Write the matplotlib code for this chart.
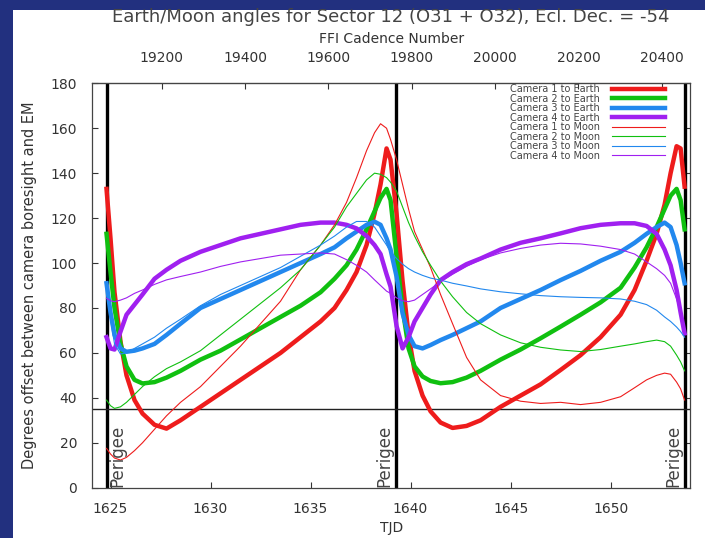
import numpy as np
from matplotlib import pyplot as plt
from matplotlib.patches import Rectangle

# sample times (TJD) shared by all series
tjd = [1624.8, 1625.0, 1625.2, 1625.5, 1625.8, 1626.2, 1626.6, 1627.2, 1627.8, 1628.5,
       1629.5, 1630.5, 1631.5, 1632.5, 1633.5, 1634.5, 1635.5, 1636.2, 1636.8, 1637.3,
       1637.8, 1638.2, 1638.5, 1638.8, 1639.0, 1639.3, 1639.6, 1639.9, 1640.2, 1640.6,
       1641.0, 1641.5, 1642.1, 1642.8, 1643.5, 1644.5, 1645.5, 1646.5, 1647.5, 1648.5,
       1649.5, 1650.5, 1651.2, 1651.8, 1652.3, 1652.7, 1653.0, 1653.3, 1653.5, 1653.7]

cam1_earth = [133, 111, 87, 65, 50, 39, 33, 28, 26.3, 30,
              36, 42, 48, 54, 60, 67, 74, 80, 88, 96,
              108, 122, 135, 151, 146, 122, 92, 68, 52, 41,
              34, 29, 26.6, 27.5, 30, 36, 41, 46, 52.4, 59,
              67, 77, 88, 101, 113, 126, 140, 152, 151, 134]
cam2_earth = [113, 96, 80, 64, 54, 48, 46.4, 47, 49, 52,
              57, 61, 66, 71, 76, 81, 87, 93, 99, 106,
              115, 123, 129, 133, 128, 103, 80, 62, 54, 49.5,
              47.5, 46.5, 47, 49, 52, 57, 61.5, 66.5, 71.7, 77,
              82.5, 89, 98, 107, 116, 124, 130, 133, 128, 115]
cam3_earth = [91, 78, 68, 62, 60.5, 61, 62, 64, 68, 73,
              80, 84, 88, 92, 96, 100, 104, 107, 111, 114,
              117, 118.4, 117, 111, 106, 94, 77.6, 68, 63, 62,
              63.5, 65.7, 68, 71, 74, 80, 84, 88, 92.4, 96.5,
              101, 105, 109, 113, 116, 118, 116, 108, 100, 91]
cam4_earth = [67, 62, 61.5, 69.5, 77, 81.5, 86, 93, 97, 101,
              105, 108, 111, 113, 115, 117, 118, 118, 117, 115.4,
              112, 108, 104, 95, 89.5, 72, 62, 67, 74, 80,
              86, 92.4, 96, 99.5, 102, 106, 109, 111, 113.2, 115.5,
              117, 117.7, 117.7, 116.5, 113, 106, 99, 88, 78, 68.7]
cam1_moon = [17.5, 15, 13.2, 12.3, 13.5, 16.5, 20, 26, 32, 38,
             45, 54, 63, 73, 83, 97, 108, 117, 127, 138,
             150, 158, 162, 160, 155, 146, 135, 124, 114, 106,
             98, 86, 73, 58, 48, 41, 38.5, 37.5, 38, 37,
             38, 40.5, 44.5, 48, 50, 51, 50.5, 47, 44, 39]
cam2_moon = [39, 36.5, 35.3, 36, 38, 41.5, 45, 49.4, 53, 56,
             61, 68, 75, 82, 89, 97, 108, 116, 125, 131,
             137, 140, 139.5, 138, 136, 132, 125, 118, 112, 105,
             99, 92, 85, 78, 73, 68, 64.5, 62.5, 61.3, 60.6,
             61.5, 63, 64, 65, 65.7, 65, 63, 59, 56, 52]
cam3_moon = [90, 75, 64, 59.5, 60, 62, 64, 67, 71, 75,
             81, 86, 90, 94, 98, 103, 108, 112, 116, 118.5,
             118.5, 116, 112, 108, 105, 102, 99.5, 97.5, 96, 94.5,
             93.3, 92.4, 91, 89.8, 88.5, 87.2, 86.3, 85.5, 85, 84.7,
             84.5, 84, 83, 81.5, 79, 76, 74, 71.5, 69.5, 67]
cam4_moon = [84.3, 83.2, 82.8, 83.5, 84.5, 86.5, 88, 90.5, 92.5, 94,
             96, 98.5, 100.5, 102, 103.5, 104, 104.5, 104, 101.5, 99,
             96, 92.5, 90, 87.5, 86.5, 84.5, 83.2, 82.8, 83.5, 86,
             88.5, 91.7, 95, 98.5, 101.5, 104.5, 106.5, 108, 108.8, 108.5,
             107.5, 106, 104, 100.5, 97.5, 94.5, 91, 84, 78, 70.2]

perigee_tjd = [1624.81, 1639.26, 1653.7]
limit_deg = 35

labels = ['Camera 1 to Earth', 'Camera 2 to Earth', 'Camera 3 to Earth', 'Camera 4 to Earth',
          'Camera 1 to Moon', 'Camera 2 to Moon', 'Camera 3 to Moon', 'Camera 4 to Moon']
series = [cam1_earth, cam2_earth, cam3_earth, cam4_earth,
          cam1_moon, cam2_moon, cam3_moon, cam4_moon]
colours = ['#ee1c1c', '#10c010', '#2288ee', '#a020f0'] * 2
widths = [3.2] * 4 + [0.8] * 4

# cadence axis: 30 minute FFIs
cad_ref, tjd_ref, cad_per_day = 19200, 1627.56, 48.0
cadence_ticks = np.arange(19200, 20401, 200)
tjd_ticks = np.arange(1625, 1651, 5)
deg_ticks = np.arange(0, 181, 20)


def tjd_to_cad(t):
    return cad_ref + (np.asarray(t) - tjd_ref) * cad_per_day


def cad_to_tjd(c):
    return tjd_ref + (np.asarray(c) - cad_ref) / cad_per_day


txt = '#333333'
fig = plt.figure(figsize=(7.05, 5.38), dpi=100, facecolor='#22307f')
# white slide panel behind the plot
fig.patches.append(Rectangle((13 / 705, 0), 1, 1 - 10 / 538, transform=fig.transFigure,
                             facecolor='white', edgecolor='none', zorder=-5))
ax = fig.add_axes([92.3 / 705, 1 - 487.7 / 538, 597.7 / 705, 404.4 / 538])
ax.set_facecolor('white')

for y, lab, col, lw in zip(series, labels, colours, widths):
    ax.plot(tjd, y, color=col, lw=lw, label=lab, zorder=3, solid_joinstyle='round')

for i, p in enumerate(perigee_tjd):
    ax.axvline(p, color='black', lw=2.4, zorder=2)
    # first label sits right of its line, the others to the left
    if i == 0:
        ax.text(p + 0.1, 0.5, 'Perigee', rotation=90, ha='left', va='bottom',
                fontsize=12, color='#444444', zorder=4)
    else:
        ax.text(p - 0.1, 0.5, 'Perigee', rotation=90, ha='right', va='bottom',
                fontsize=12, color='#444444', zorder=4)
ax.axhline(limit_deg, color='#222222', lw=1.0, zorder=2)

ax.set_xlim(1624.09, 1653.97)
ax.set_ylim(0, 180)
ax.set_xticks(tjd_ticks)
ax.set_yticks(deg_ticks)
ax.tick_params(axis='x', direction='in', length=4, pad=10, labelsize=10, colors=txt)
ax.tick_params(axis='y', direction='in', length=4, pad=11, labelsize=10, colors=txt, right=True)
for s in ax.spines.values():
    s.set_color('#444444')
    s.set_linewidth(0.9)

ax.set_xlabel('TJD', fontsize=10, color=txt, labelpad=4)
ax.set_ylabel('Degrees offset between camera boresight and EM', fontsize=10.5, color=txt, labelpad=10)

top = ax.secondary_xaxis('top', functions=(tjd_to_cad, cad_to_tjd))
top.set_xticks(cadence_ticks)
top.tick_params(direction='in', length=4, pad=13, labelsize=10, colors=txt)
top.set_xlabel('FFI Cadence Number', fontsize=10, color=txt, labelpad=6)

fig.text((92.3 + 690) / 2 / 705, 1 - 17 / 538,
         'Earth/Moon angles for Sector 12 (O31 + O32), Ecl. Dec. = -54',
         ha='center', va='center', fontsize=13, color='#444444')

leg = ax.legend(loc='upper right', bbox_to_anchor=((665 - 92.3) / 597.7, (487.7 - 84) / 404.4),
                frameon=False, markerfirst=False, fontsize=7, labelspacing=-0.05,
                handlelength=5.5, handletextpad=1.2, borderpad=0, borderaxespad=0)
for t in leg.get_texts():
    t.set_color('#444444')

plt.savefig('out.png', dpi=100, facecolor=fig.get_facecolor())
